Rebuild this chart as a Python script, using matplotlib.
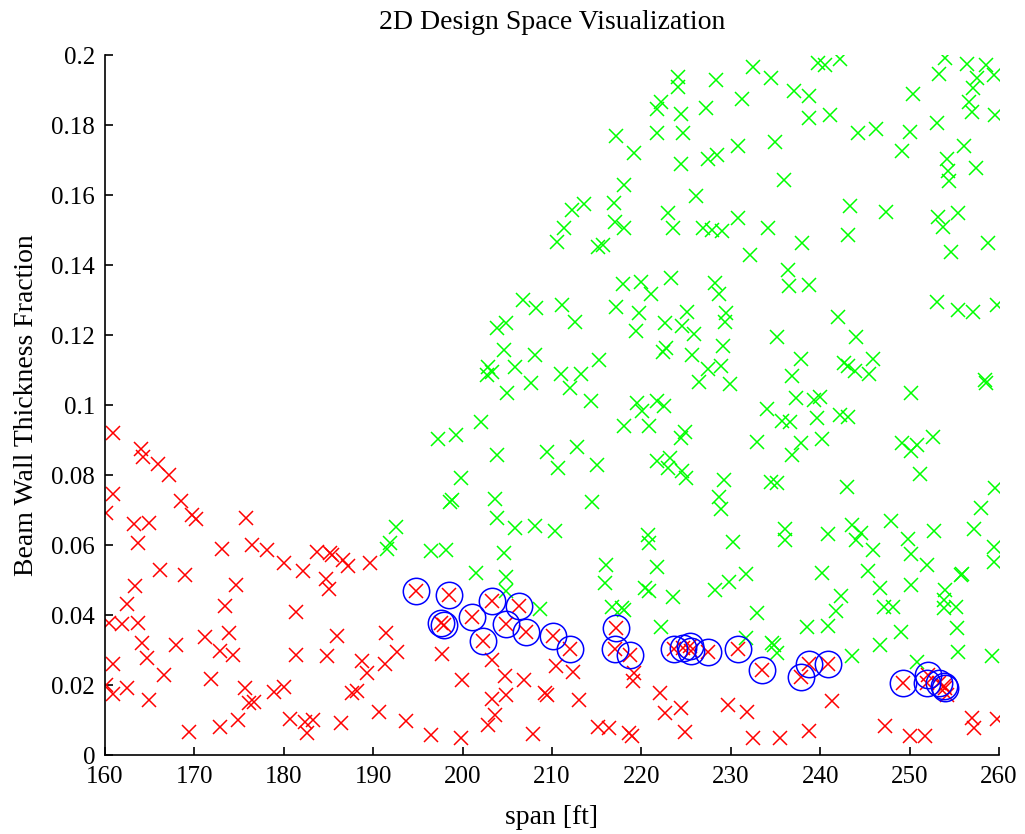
import numpy as np
import matplotlib
matplotlib.use("Agg")
import matplotlib.pyplot as plt

# infeasible designs (red x)
red_x = [160.93, 164.0, 164.3, 165.96, 167.16, 168.5, 160.86, 160.08, 169.7, 170.2, 175.8, 163.2, 164.9,
         163.66, 173.05, 176.5, 178.1, 180.06, 182.1, 166.2, 169.0, 163.4, 174.7, 162.5, 173.4, 181.4,
         160.4, 161.9, 163.66, 171.2, 173.9, 164.1, 168.0, 172.9, 174.3, 181.4, 160.86, 164.66, 166.6,
         171.9, 160.08, 160.86, 162.5, 164.9, 175.7, 176.1, 176.7, 178.9, 180.0, 169.4, 172.9, 174.9,
         180.7, 182.4, 182.6,
         183.7, 185.2, 185.4, 186.65, 187.2, 189.64, 184.7, 185.06, 185.9, 191.4, 184.8, 188.7, 189.3,
         191.3, 192.7, 187.6, 188.2, 190.6, 183.3, 186.4, 193.7, 196.5, 199.8, 197.7, 199.9, 203.3,
         204.7, 206.87, 204.9, 203.3, 203.6, 202.8, 207.9,
         210.4, 212.3, 209.2, 209.4, 213.05, 219.2, 219.1, 222.1, 222.6, 224.4, 229.7, 231.8, 215.2,
         216.4, 218.6, 219.0, 224.9, 232.5,
         241.3, 235.5, 238.8, 247.2, 250.0, 251.7, 257.0, 257.2, 259.8, 254.2]
red_y = [0.0921, 0.0873, 0.0851, 0.0831, 0.0800, 0.0726, 0.0746, 0.0691, 0.0686, 0.0674, 0.0676, 0.0659, 0.0662,
         0.0607, 0.0589, 0.0600, 0.0586, 0.0549, 0.0527, 0.0529, 0.0514, 0.0483, 0.0486, 0.0431, 0.0426, 0.0409,
         0.0376, 0.0374, 0.0376, 0.0338, 0.0348, 0.0319, 0.0314, 0.0298, 0.0286, 0.0286, 0.0260, 0.0276, 0.0229,
         0.0217, 0.0200, 0.0174, 0.0191, 0.0157, 0.0191, 0.0148, 0.0152, 0.0181, 0.0193, 0.0067, 0.0081, 0.0100,
         0.0102, 0.0095, 0.0062,
         0.0579, 0.0576, 0.0572, 0.0557, 0.0540, 0.0548, 0.0502, 0.0473, 0.0340, 0.0348, 0.0283, 0.0269, 0.0233,
         0.0260, 0.0294, 0.0178, 0.0184, 0.0124, 0.0100, 0.0091, 0.0098, 0.0057, 0.0050, 0.0290, 0.0214, 0.0271,
         0.0226, 0.0214, 0.0171, 0.0159, 0.0114, 0.0086, 0.0059,
         0.0255, 0.0238, 0.0178, 0.0171, 0.0157, 0.0233, 0.0211, 0.0176, 0.0121, 0.0133, 0.0143, 0.0124, 0.0081,
         0.0076, 0.0062, 0.0054, 0.0067, 0.0050,
         0.0154, 0.0048, 0.0069, 0.0084, 0.0054, 0.0055, 0.0105, 0.0076, 0.0103, 0.0171]

# best designs (red x with blue circle)
opt_x = [194.76, 198.5, 203.3, 206.3, 201.1, 197.6, 197.9, 204.9, 207.1, 202.3, 210.1, 212.0, 217.2, 217.0,
         218.7, 223.6, 224.7, 225.4, 225.6, 227.5, 230.8, 233.5, 238.7, 237.9, 240.9, 249.3, 252.1, 251.9,
         253.3, 253.8, 254.0]
opt_y = [0.0469, 0.0457, 0.0441, 0.0426, 0.0393, 0.0378, 0.0371, 0.0374, 0.0352, 0.0327, 0.0340, 0.0303,
         0.0362, 0.0302, 0.0286, 0.0302, 0.0307, 0.0311, 0.0297, 0.0295, 0.0302, 0.0243, 0.0260, 0.0224,
         0.0259, 0.0205, 0.0228, 0.0205, 0.0205, 0.0198, 0.0191]

# feasible designs (green x)
green_x = [192.6, 191.9, 191.6, 196.5, 198.1, 205.85, 208.1, 204.6, 201.5, 204.9, 204.9,
           206.8, 208.2, 203.8, 204.9, 204.66, 208.1, 202.9, 203.3, 202.7, 205.9, 207.7, 205.0, 202.1,
           197.3, 199.3, 203.8, 199.8, 198.8, 198.6, 203.6, 203.9,
           232.45, 224.1, 224.1, 228.4, 234.5, 222.2, 221.7, 224.4, 227.2, 231.3, 217.2, 221.8, 224.7,
           219.2, 230.8, 224.4, 227.4, 228.5, 218.07, 226.1, 213.6, 212.2, 216.97, 222.96, 211.3, 210.6,
           217.1, 218.07, 223.5, 226.9, 227.9, 229.0, 230.8, 215.1, 215.7, 232.15, 218.0, 220.0, 223.3,
           228.2, 228.7,
           221.1, 211.1, 212.6, 217.2, 219.76, 219.4, 222.6, 224.6, 225.1, 225.9, 229.5, 229.35, 222.4,
           222.8, 225.7, 229.1, 215.3, 210.97, 213.3, 212.0, 214.4, 227.4, 228.9, 226.5, 229.9, 219.5,
           220.1, 221.8, 222.5, 218.07, 220.8, 224.4, 224.9, 232.9, 234.0, 209.5, 212.8, 210.7, 215.0,
           221.7, 223.2, 223.0, 224.6, 225.0, 229.2, 234.45, 228.7, 228.9, 214.5,
           210.3, 220.7, 220.9, 230.2, 216.0, 215.9, 221.8, 220.4, 220.8, 223.5, 228.2, 229.8, 231.7,
           232.9, 208.7, 216.7, 217.8, 218.1, 222.2, 231.7,
           239.8, 240.5, 242.2, 237.1, 238.7, 238.8, 241.1, 234.9, 244.2, 246.2, 250.0, 250.4, 249.1,
           253.1, 253.3, 253.95, 256.4, 258.6, 259.5, 257.5, 257.1, 256.65, 257.0, 259.6, 256.1, 254.2,
           254.3, 254.4, 257.4, 235.9, 243.3, 247.4, 243.1, 253.2, 253.7, 255.4, 258.8, 254.6, 234.2,
           238.0, 236.4, 236.5, 238.7,
           253.1, 255.4, 257.1, 259.8, 242.0, 235.2, 244.0, 237.9, 242.7, 243.1, 243.9, 245.9, 245.5,
           236.9, 258.4, 258.5, 250.2, 237.3, 239.3, 240.0, 239.6, 242.2, 243.1, 235.7, 236.6, 240.2,
           237.9, 236.8, 249.2, 250.8, 250.2, 252.6, 251.2, 235.2, 243.0, 259.6, 258.0,
           236.1, 236.1, 240.9, 243.6, 244.6, 243.96, 247.9, 249.8, 252.7, 257.2, 259.4, 259.5, 245.9,
           250.2, 251.9, 240.15, 245.3, 255.8, 255.9, 246.7, 250.2, 254.0, 242.3, 253.8, 241.8, 247.1,
           248.2, 253.8, 255.2, 238.5, 240.9, 249.0, 255.3, 234.6, 234.8, 235.2, 243.6, 246.7, 255.4,
           259.2, 250.8]
green_y = [0.0652, 0.0605, 0.0588, 0.0584, 0.0586, 0.0650, 0.0654, 0.0578, 0.0521, 0.0510, 0.0469,
           0.1300, 0.1278, 0.1219, 0.1233, 0.1157, 0.1143, 0.1110, 0.1093, 0.1086, 0.1110, 0.1064, 0.1035, 0.0952,
           0.0902, 0.0914, 0.0857, 0.0791, 0.0729, 0.0724, 0.0731, 0.0678,
           0.1967, 0.1936, 0.1910, 0.1930, 0.1933, 0.1867, 0.1845, 0.1831, 0.1850, 0.1873, 0.1769, 0.1776, 0.1776,
           0.1721, 0.1741, 0.1689, 0.1703, 0.1714, 0.1630, 0.1597, 0.1574, 0.1557, 0.1576, 0.1548, 0.1507, 0.1467,
           0.1524, 0.1505, 0.1507, 0.1507, 0.1500, 0.1497, 0.1533, 0.1452, 0.1457, 0.1429, 0.1345, 0.1352, 0.1364,
           0.1348, 0.1316,
           0.1316, 0.1286, 0.1236, 0.1279, 0.1262, 0.1212, 0.1235, 0.1227, 0.1267, 0.1202, 0.1262, 0.1236, 0.1152,
           0.1162, 0.1143, 0.1169, 0.1129, 0.1088, 0.1090, 0.1048, 0.1011, 0.1103, 0.1111, 0.1067, 0.1060, 0.1005,
           0.0983, 0.1011, 0.0998, 0.0940, 0.0940, 0.0905, 0.0922, 0.0895, 0.0990, 0.0867, 0.0881, 0.0821, 0.0829,
           0.0841, 0.0848, 0.0819, 0.0811, 0.0791, 0.0786, 0.0781, 0.0738, 0.0703, 0.0722,
           0.0641, 0.0629, 0.0607, 0.0610, 0.0543, 0.0492, 0.0538, 0.0476, 0.0469, 0.0452, 0.0471, 0.0495, 0.0516,
           0.0405, 0.0416, 0.0422, 0.0419, 0.0414, 0.0367, 0.0333,
           0.1976, 0.1971, 0.1988, 0.1897, 0.1884, 0.1819, 0.1829, 0.1751, 0.1776, 0.1790, 0.1781, 0.1890, 0.1726,
           0.1807, 0.1946, 0.1992, 0.1974, 0.1971, 0.1943, 0.1933, 0.1905, 0.1867, 0.1838, 0.1830, 0.1741, 0.1702,
           0.1669, 0.1640, 0.1678, 0.1643, 0.1569, 0.1551, 0.1486, 0.1538, 0.1509, 0.1548, 0.1464, 0.1436, 0.1507,
           0.1462, 0.1386, 0.1341, 0.1343,
           0.1293, 0.1271, 0.1267, 0.1286, 0.1252, 0.1195, 0.1195, 0.1131, 0.1119, 0.1111, 0.1097, 0.1131, 0.1088,
           0.1083, 0.1071, 0.1064, 0.1034, 0.1021, 0.1014, 0.1024, 0.0962, 0.0971, 0.0967, 0.0954, 0.0952, 0.0902,
           0.0891, 0.0857, 0.0891, 0.0886, 0.0869, 0.0908, 0.0803, 0.0776, 0.0767, 0.0764, 0.0707,
           0.0645, 0.0614, 0.0631, 0.0657, 0.0635, 0.0614, 0.0669, 0.0616, 0.0641, 0.0645, 0.0593, 0.0552, 0.0586,
           0.0574, 0.0543, 0.0521, 0.0526, 0.0514, 0.0518, 0.0476, 0.0486, 0.0471, 0.0454, 0.0443, 0.0412, 0.0424,
           0.0424, 0.0419, 0.0424, 0.0365, 0.0369, 0.0351, 0.0362, 0.0321, 0.0314, 0.0291, 0.0283, 0.0314, 0.0295,
           0.0284, 0.0265]

x_ticks = [160, 170, 180, 190, 200, 210, 220, 230, 240, 250, 260]
y_ticks = [0, 0.02, 0.04, 0.06, 0.08, 0.1, 0.12, 0.14, 0.16, 0.18, 0.2]
y_tick_labels = ["0", "0.02", "0.04", "0.06", "0.08", "0.1", "0.12", "0.14", "0.16", "0.18", "0.2"]

plt.rcParams['font.family'] = ['Liberation Serif', 'DejaVu Serif']

fig = plt.figure(figsize=(10.25, 8.34), dpi=100)
ax = fig.add_axes([0.1024, 0.0947, 0.8722, 0.8393])

ax.plot(green_x, green_y, linestyle='none', marker='x', color=(0, 1, 0), ms=10, mew=1.1)
ax.plot(red_x, red_y, linestyle='none', marker='x', color=(1, 0, 0), ms=10, mew=1.1)
ax.plot(opt_x, opt_y, linestyle='none', marker='x', color=(1, 0, 0), ms=10, mew=1.1)
ax.plot(opt_x, opt_y, linestyle='none', marker='o', mfc='none', mec=(0, 0, 1), ms=19, mew=1.1)

ax.set_xlim(160, 260)
ax.set_ylim(0, 0.2)
ax.set_xticks(x_ticks)
ax.set_yticks(y_ticks)
ax.set_yticklabels(y_tick_labels)
ax.tick_params(direction='in', length=6, width=1.2, labelsize=18)
ax.tick_params(axis='x', pad=8)
ax.tick_params(axis='y', pad=7)
for s in ['top', 'right']:
    ax.spines[s].set_visible(False)
for s in ['left', 'bottom']:
    ax.spines[s].set_linewidth(1.2)

ax.set_xlabel('span [ft]', fontsize=20, labelpad=12)
ax.set_ylabel('Beam Wall Thickness Fraction', fontsize=20, labelpad=9)
ax.set_title('2D Design Space Visualization', fontsize=20, pad=19)

fig.savefig('out.png', dpi=100)
